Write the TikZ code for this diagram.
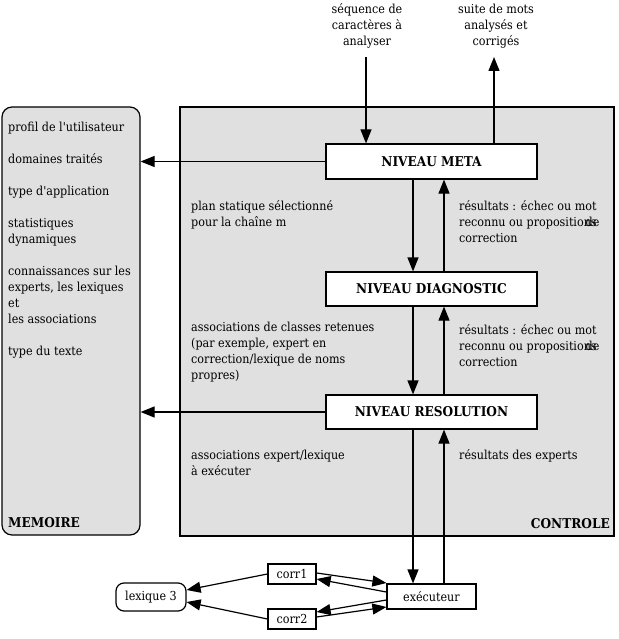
\documentclass[tikz,border=0pt]{standalone}
\usepackage{fontspec}
\setmainfont{DejaVu Serif Condensed}[Ligatures=TeXOff]
\usetikzlibrary{arrows.meta,calc,positioning}
\definecolor{zonegray}{RGB}{224,224,224}

\begin{document}
\begin{tikzpicture}[x=1pt,y=-1pt,
    every node/.style={font=\fontsize{12.4}{16}\selectfont},
    arr/.style={-{Triangle[length=14pt,width=11pt]},line width=1.2pt},
    zone/.style={draw,line width=1.2pt,fill=zonegray},
    niveau/.style={draw,line width=1.2pt,fill=white,minimum width=211pt,minimum height=35pt,font=\fontsize{13.5}{15}\selectfont\bfseries},
    petit/.style={draw,line width=1.2pt,fill=white,inner sep=0pt},
    txt/.style={align=left,anchor=base west,inner sep=0pt}]
  \useasboundingbox (0,0) rectangle (618,639);
  % les deux zones
  \node[zone,rounded corners=10pt,minimum width=138pt,minimum height=428pt] (mem) at (71,321) {};
  \node[zone,minimum width=434pt,minimum height=429pt] (ctrl) at (397,321.5) {};
  \node[txt,font=\fontsize{13.5}{15}\selectfont\bfseries] (memlbl) at (8,527) {MEMOIRE};
  \node[txt,anchor=base east,font=\fontsize{13.5}{15}\selectfont\bfseries] (ctrllbl) at (610,528) {CONTROLE};
  % (base = derniere ligne)
  \node[txt] (memtxt) at (8,355) {profil de l'utilisateur\\[16pt]
    domaines traités\\[16pt]
    type d'application\\[16pt]
    statistiques\\dynamiques\\[16pt]
    connaissances sur les\\experts, les lexiques\\et\\les associations\\[16pt]
    type du texte};
  % niveaux
  \node[niveau] (meta) at (431.5,161.5) {NIVEAU META};
  \node[niveau,minimum height=34pt] (diag) at (431.5,289) {NIVEAU DIAGNOSTIC};
  \node[niveau,minimum height=34pt] (res) at (431.5,412) {NIVEAU RESOLUTION};
  % entree / sortie
  \node[align=center,anchor=base,inner sep=0pt] (inlbl) at (367,46) {séquence de\\caractères à\\analyser};
  \node[align=center,anchor=base,inner sep=0pt] (outlbl) at (496,46) {suite de mots\\analysés et\\corrigés};
  \coordinate (inarr) at (366,57);
  \coordinate (outarr) at (494,57);
  \draw[arr] (inarr) -- (inarr |- meta.north);
  \draw[arr] (outarr |- meta.north) -- (outarr);
  % textes du controle
  \node[txt] (plan) at (191,226) {plan statique sélectionné\\pour la chaîne m};
  \node[txt] (res1) at (459,242) {résultats : échec ou mot\\reconnu ou propositions\hspace{-11pt}de\\correction};
  \node[txt] (assoc) at (191,379) {associations de classes retenues\\(par exemple, expert en\\correction/lexique de noms\\propres)};
  \node[txt] (res2) at (459,366) {résultats : échec ou mot\\reconnu ou propositions\hspace{-11pt}de\\correction};
  \node[txt] (assoc2) at (191,475) {associations expert/lexique\\à exécuter};
  \node[txt] (res3) at (459,459) {résultats des experts};
  % fleches entre niveaux
  \draw[arr] ([xshift=-18.5pt]meta.south) -- ([xshift=-18.5pt]diag.north);
  \draw[arr] ([xshift=12.5pt]diag.north) -- ([xshift=12.5pt]meta.south);
  \draw[arr] ([xshift=-18.5pt]diag.south) -- ([xshift=-18.5pt]res.north);
  \draw[arr] ([xshift=12.5pt]res.north) -- ([xshift=12.5pt]diag.south);
  \draw[arr] (meta.west) -- (meta.west -| mem.east);
  \draw[arr] (res.west) -- (res.west -| mem.east);
  % executeur et lexique
  \node[petit,minimum width=89pt,minimum height=25pt] (exec) at (431.5,596.5) {exécuteur};
  \node[petit,minimum width=48pt,minimum height=20pt] (corr1) at (292,574) {corr1};
  \node[petit,minimum width=48pt,minimum height=20pt] (corr2) at (292,619) {corr2};
  \node[petit,rounded corners=8pt,minimum width=70pt,minimum height=28pt] (lex) at (151,597) {lexique 3};
  \draw[arr] ([xshift=-18.5pt]res.south) -- ([xshift=-18.5pt]exec.north);
  \draw[arr] ([xshift=12.5pt]exec.north) -- ([xshift=12.5pt]res.south);
  \draw[arr] (corr1.west) -- ([yshift=7pt]lex.east);
  \draw[arr] (corr2.west) -- ([yshift=-5pt]lex.east);
  \draw[arr] ([yshift=1pt]corr1.east) -- ([yshift=13.5pt]exec.west);
  \draw[arr] ([yshift=4.5pt]exec.west) -- ([yshift=-5pt]corr1.east);
  \draw[arr] ([yshift=-3.5pt]exec.west) -- ([yshift=7pt]corr2.east);
  \draw[arr] ([yshift=2pt]corr2.east) -- ([yshift=-10.5pt]exec.west);
\end{tikzpicture}
\end{document}
